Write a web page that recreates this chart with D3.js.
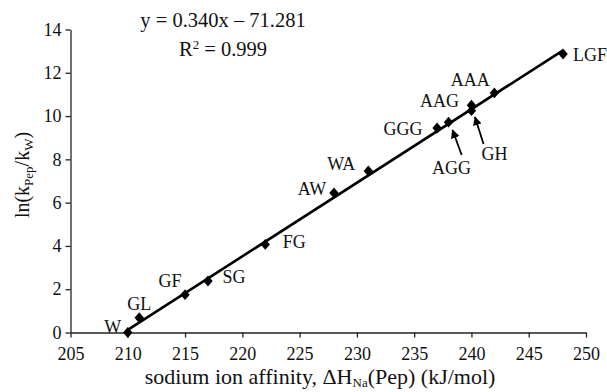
<!DOCTYPE html>
<html><head><meta charset="utf-8">
<script src="https://cdn.jsdelivr.net/npm/d3@7/dist/d3.min.js"></script>
<style>body{margin:0;background:#fff}svg{display:block}svg text{font-family:'Liberation Serif',serif !important;fill:#111}</style>
</head><body>
<svg id="c" width="607" height="392" font-family="Liberation Serif"></svg>
<script>
const peptides = ["W","GL","GF","SG","FG","AW","WA","GGG","AGG","AAG","GH","AAA","LGF"];
const affinity = [210,211,215,217,222,228,231,237,238,240,240,242,248];
const lnRatio = [0,0.68,1.75,2.38,4.07,6.45,7.46,9.45,9.72,10.5,10.25,11.07,12.87];
const xTicks = [205,210,215,220,225,230,235,240,245,250];
const yTicks = [0,2,4,6,8,10,12,14];
const slope = 0.340, intercept = -71.281;
const labelOffsets = {W:[-15,-6],GL:[0,-14],GF:[-15,-14],SG:[26,-4],FG:[29,-2],AW:[-22,-4],WA:[-27,-7],GGG:[-34,1],AGG:[3,46],AAG:[-32,-4],GH:[23,43],AAA:[-24,-13],LGF:[27,1]};
const arrows = {AGG:[[461.7,155],[452.5,130]],GH:[[483.5,144],[475,117]]};
const FS = "18px";

const svg = d3.select("#c");
const x = d3.scaleLinear().domain([205,250]).range([70.5,586]);
const y = d3.scaleLinear().domain([0,14]).range([332.5,29.5]);

const xAxis = svg.append("g").attr("transform","translate(0,332.5)")
  .call(d3.axisBottom(x).tickValues(xTicks).tickSizeInner(5).tickSizeOuter(0).tickPadding(10));
const yAxis = svg.append("g").attr("transform","translate(70.5,0)")
  .call(d3.axisLeft(y).tickValues(yTicks).tickSizeInner(5).tickSizeOuter(0).tickPadding(4));
[xAxis,yAxis].forEach(a=>{
  a.attr("font-family","Liberation Serif").attr("font-size",FS);
  a.selectAll("path,line").attr("stroke","#222").attr("stroke-width",1.3);
  a.selectAll("text").attr("fill","#222");
});

const x0 = d3.min(affinity), x1 = d3.max(affinity);
svg.append("line").attr("x1",x(x0)).attr("y1",y(slope*x0+intercept))
  .attr("x2",x(x1)).attr("y2",y(slope*x1+intercept))
  .attr("stroke","#000").attr("stroke-width",2.6);

const sym = d3.symbol().type(d3.symbolDiamond).size(34);
svg.selectAll("path.pt").data(peptides).enter().append("path").attr("class","pt")
  .attr("d",sym).attr("fill","#000")
  .attr("transform",(d,i)=>`translate(${x(affinity[i])},${y(lnRatio[i])}) scale(1.5,1)`);

svg.selectAll("text.lbl").data(peptides).enter().append("text").attr("class","lbl")
  .attr("x",(d,i)=>x(affinity[i])+labelOffsets[d][0])
  .attr("y",(d,i)=>y(lnRatio[i])+labelOffsets[d][1])
  .attr("text-anchor","middle").attr("dominant-baseline","central")
  .attr("font-size",FS).text(d=>d);

const defs = svg.append("defs");
defs.append("marker").attr("id","ah").attr("viewBox","0 0 10 10").attr("refX",9).attr("refY",5)
  .attr("markerWidth",5).attr("markerHeight",5).attr("orient","auto")
  .append("path").attr("d","M0,0L10,5L0,10z").attr("fill","#000");
Object.entries(arrows).forEach(([k,p])=>{
  svg.append("line").attr("x1",p[0][0]).attr("y1",p[0][1]).attr("x2",p[1][0]).attr("y2",p[1][1])
    .attr("stroke","#000").attr("stroke-width",1.8).attr("marker-end","url(#ah)");
});

svg.append("text").attr("x",223).attr("y",27).attr("text-anchor","middle").attr("font-size","20.5px")
  .text("y = 0.340x \u2013 71.281");
const r2 = svg.append("text").attr("x",223).attr("y",56).attr("text-anchor","middle").attr("font-size","20.5px");
r2.append("tspan").text("R");
r2.append("tspan").attr("dy",-7).attr("font-size","13px").text("2");
r2.append("tspan").attr("dy",7).text(" = 0.999");

const xl = svg.append("text").attr("x",320).attr("y",384).attr("text-anchor","middle").attr("font-size","22px");
xl.append("tspan").text("sodium ion affinity, \u0394H");
xl.append("tspan").attr("dy",3).attr("font-size","13px").text("Na");
xl.append("tspan").attr("dy",-3).text("(Pep) (kJ/mol)");

const yl = svg.append("text").attr("transform","translate(29,175) rotate(-90)").attr("text-anchor","middle").attr("font-size","20px");
yl.append("tspan").text("ln(k");
yl.append("tspan").attr("dy",4).attr("font-size","13px").text("Pep");
yl.append("tspan").attr("dy",-4).text("/k");
yl.append("tspan").attr("dy",4).attr("font-size","13px").text("W");
yl.append("tspan").attr("dy",-4).text(")");
</script>
</body></html>
